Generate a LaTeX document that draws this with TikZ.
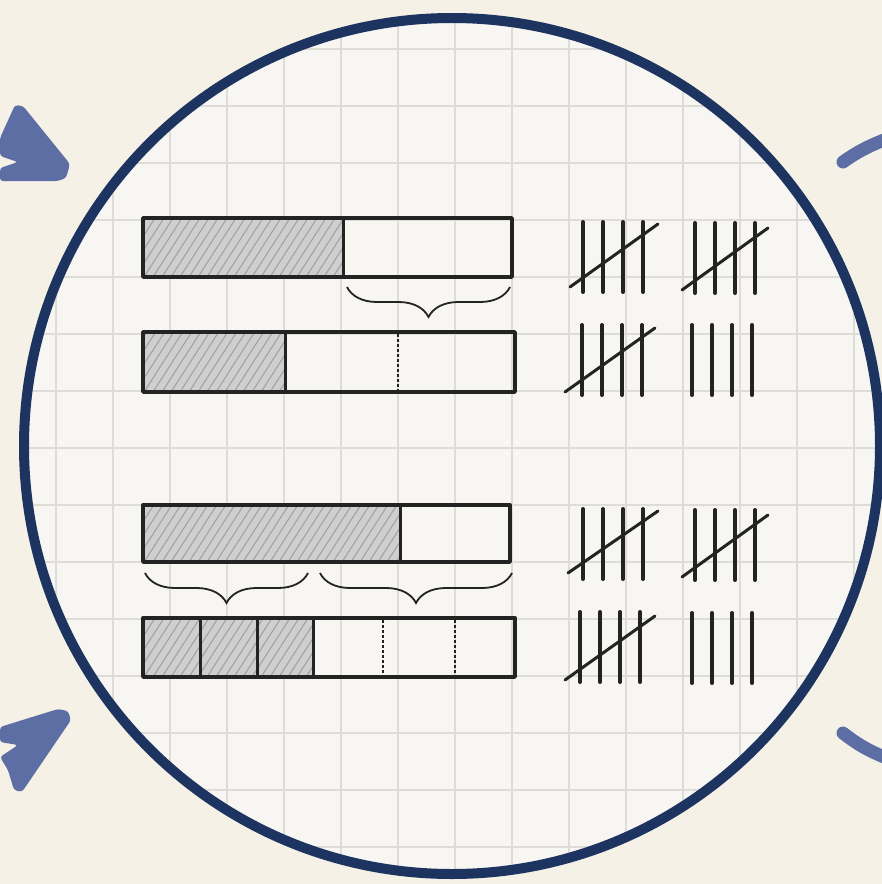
\documentclass[tikz,border=0pt]{standalone}
\usetikzlibrary{decorations.pathreplacing}

\definecolor{paper}{HTML}{F5F1E7}
\definecolor{sheet}{HTML}{F7F6F2}
\definecolor{gridc}{HTML}{DDDCD7}
\definecolor{ring}{HTML}{1E3460}
\definecolor{arrowblue}{HTML}{5C6EA3}
\definecolor{ink}{HTML}{232323}
\definecolor{hatchfill}{HTML}{CFCFCF}
\definecolor{hatchline}{HTML}{A2A2A2}

% hatched part of a bar: x1, y1, x2, y2
\newcommand{\hatchpart}[4]{
  \begin{scope}
    \clip (#1,#2) rectangle (#3,#4);
    \fill[hatchfill] (#1,#2) rectangle (#3,#4);
    \foreach \h in {-80,-71,...,400}
      \draw[hatchline, line width=1.1] ({#1+\h},#4) -- ++(40,-62);
  \end{scope}
}

% four strokes of a tally: first x, top y
\newcommand{\tallyfour}[2]{
  \foreach \k in {0,1,2,3}
    \draw[tally] ({#1+20*\k},#2) -- ({#1+20*\k},{#2+70});
}

\begin{document}
\begin{tikzpicture}[x=1pt, y=-1pt,
    gridline/.style={gridc, line width=1.3},
    bar/.style={ink, line width=3.4, line join=round},
    divider/.style={ink, line width=3},
    dotdiv/.style={ink, line width=1.6, dash pattern=on 3pt off 2pt},
    tally/.style={ink, line width=4, line cap=round},
    slash/.style={ink, line width=3, line cap=round},
    bracebelow/.style={ink, line width=1.8,
      decorate, decoration={brace, mirror, amplitude=30}},
    sidestroke/.style={arrowblue, line width=13, line cap=round}]

  % page and paper disc
  \fill[paper] (0,0) rectangle (882,884);
  \useasboundingbox (0,0) rectangle (882,884);
  \fill[sheet] (452,446) circle (428);
  \begin{scope}
    \clip (452,446) circle (428);
    \foreach \x in {-1,56,...,900}
      \draw[gridline] (\x,0) -- (\x,884);
    \foreach \y in {-8,49,...,900}
      \draw[gridline] (0,\y) -- (882,\y);
  \end{scope}
  \draw[ring, line width=10] (452,446) circle (428);

  % arrows coming in on the left
  \fill[arrowblue, rounded corners=3] (0,138) -- (15,105) -- (23,106) -- (70,164)
    -- (66,178) -- (58,181) -- (0,181) -- (0,168) -- (18,162) -- (0,156) -- cycle;
  \fill[arrowblue, rounded corners=3] (0,727) -- (58,709) -- (68,711) -- (71,720)
    -- (22,792) -- (14,790) -- (8,770) -- (0,757) -- (18,745) -- (0,742) -- cycle;

  % strokes going out on the right
  \draw[sidestroke] (843,162) .. controls (857,152) and (870,145) .. (892,137);
  \draw[sidestroke] (843,733) .. controls (857,744) and (870,752) .. (892,760);

  % first pair of bars
  \hatchpart{143}{218}{343}{277}
  \draw[bar] (143,218) rectangle (512,277);
  \draw[divider] (343,218) -- (343,277);
  \draw[bracebelow] (347,287) -- (510,287);

  \hatchpart{143}{332}{285}{392}
  \draw[bar] (143,332) rectangle (515,392);
  \draw[divider] (285,332) -- (285,392);
  \draw[dotdiv] (398,334) -- (398,390);

  % second pair of bars
  \hatchpart{143}{505}{400}{562}
  \draw[bar] (143,505) rectangle (510,562);
  \draw[divider] (400,505) -- (400,562);
  \draw[bracebelow] (145,573) -- (308,573);
  \draw[bracebelow] (320,573) -- (512,573);

  \hatchpart{143}{618}{313}{677}
  \draw[bar] (143,618) rectangle (515,677);
  \foreach \d in {200,257,313}
    \draw[divider] (\d,618) -- (\d,677);
  \foreach \d in {383,455}
    \draw[dotdiv] (\d,620) -- (\d,675);

  % tallies
  \tallyfour{583}{222}
  \draw[slash] (570,287) -- (658,224);
  \tallyfour{695}{223}
  \draw[slash] (682,290) -- (768,228);
  \tallyfour{582}{325}
  \draw[slash] (565,392) -- (655,328);
  \tallyfour{692}{325}

  \tallyfour{583}{509}
  \draw[slash] (568,573) -- (658,511);
  \tallyfour{695}{510}
  \draw[slash] (682,577) -- (768,515);
  \tallyfour{580}{612}
  \draw[slash] (565,680) -- (655,616);
  \tallyfour{692}{613}
\end{tikzpicture}
\end{document}
